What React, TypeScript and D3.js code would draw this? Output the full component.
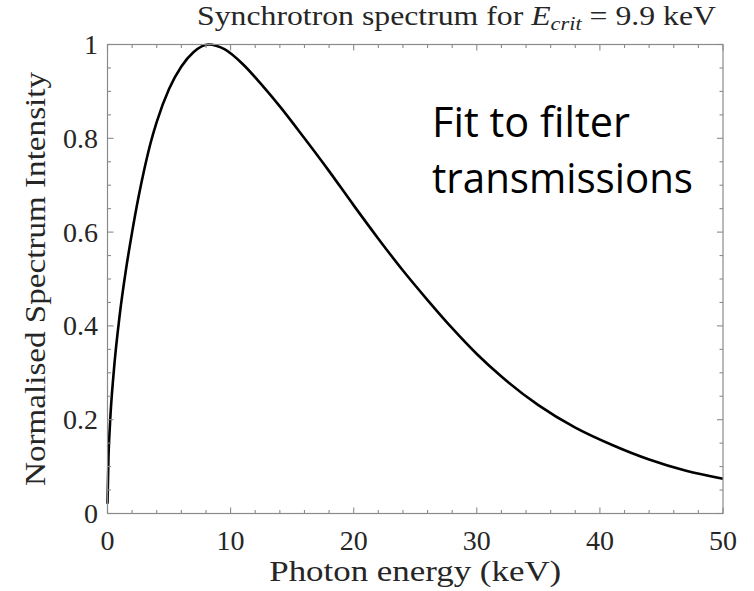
import React from "react";
import * as d3 from "d3";

// Photon energy (keV) and normalised intensity of the synchrotron spectrum
const energy = [0, 0.08, 0.2, 0.5, 1.0, 1.5, 2.0, 2.5, 3.0, 3.5, 4.0, 5.0, 6.0, 7.0, 8.2, 9.5, 11.0, 12.5, 14.0, 16.0, 18.0, 20.0, 22.0, 24.0, 26.0, 28.0, 30.0, 32.0, 35.0, 38.0, 41.0, 44.0, 47.0, 50.0];
const intensity = [0.021, 0.12, 0.19, 0.3, 0.425, 0.52, 0.6, 0.672, 0.735, 0.79, 0.835, 0.905, 0.953, 0.984, 1.0, 0.99, 0.958, 0.915, 0.868, 0.8, 0.73, 0.657, 0.586, 0.518, 0.455, 0.395, 0.34, 0.292, 0.231, 0.183, 0.146, 0.115, 0.091, 0.074];

const xMajorTicks = [0, 10, 20, 30, 40, 50];
const yMajorTicks = [0, 0.2, 0.4, 0.6, 0.8, 1];
const yTickLabels = ["0", "0.2", "0.4", "0.6", "0.8", "1"];

const W = 754;
const H = 591;
const M = { left: 107.5, right: 723, top: 44.5, bottom: 513.5 };

const serif = "'Liberation Serif', 'DejaVu Serif', serif";
const sans = "'Open Sans', 'Noto Sans', sans-serif";
const axisColor = "#8a8a8a";
const textColor = "#262626";

export default function App() {
  const x = d3.scaleLinear().domain([0, 50]).range([M.left, M.right]);
  const y = d3.scaleLinear().domain([0, 1]).range([M.bottom, M.top]);

  const pts = energy.map((e, i) => [e, intensity[i]] as [number, number]);
  const line = d3
    .line<[number, number]>()
    .x((d) => x(d[0]))
    .y((d) => y(d[1]))
    .curve(d3.curveMonotoneX);

  const xMinor = d3.range(0, 50.001, 2).filter((v) => !xMajorTicks.includes(v));
  const yMinor = d3
    .range(0, 1.0001, 0.05)
    .map((v) => +v.toFixed(2))
    .filter((v) => !yMajorTicks.some((t) => Math.abs(t - v) < 1e-6));

  const majLen = 6;
  const minLen = 3.5;

  return (
    <svg
      width={W}
      height={H}
      style={{ position: "absolute", left: 0, top: 0, background: "#fff" }}
    >
      {/* data curve */}
      <path d={line(pts) || ""} fill="none" stroke="#000" strokeWidth={2.6} strokeLinejoin="round" />

      {/* axes box */}
      <rect
        x={M.left}
        y={M.top}
        width={M.right - M.left}
        height={M.bottom - M.top}
        fill="none"
        stroke={axisColor}
        strokeWidth={1.2}
      />

      {/* x ticks, bottom and top */}
      {xMajorTicks.map((t) => (
        <g key={"xm" + t}>
          <line x1={x(t)} x2={x(t)} y1={M.bottom} y2={M.bottom - majLen} stroke={axisColor} strokeWidth={1.1} />
          <line x1={x(t)} x2={x(t)} y1={M.top} y2={M.top + majLen} stroke={axisColor} strokeWidth={1.1} />
          <text x={x(t)} y={550} textAnchor="middle" fontFamily={serif} fontSize={28} fill={textColor}>
            {t}
          </text>
        </g>
      ))}
      {xMinor.map((t) => (
        <g key={"xn" + t}>
          <line x1={x(t)} x2={x(t)} y1={M.bottom} y2={M.bottom - minLen} stroke={axisColor} strokeWidth={1.1} />
          <line x1={x(t)} x2={x(t)} y1={M.top} y2={M.top + minLen} stroke={axisColor} strokeWidth={1.1} />
        </g>
      ))}

      {/* y ticks, left and right */}
      {yMajorTicks.map((t, i) => (
        <g key={"ym" + t}>
          <line x1={M.left} x2={M.left + majLen} y1={y(t)} y2={y(t)} stroke={axisColor} strokeWidth={1.1} />
          <line x1={M.right} x2={M.right - majLen} y1={y(t)} y2={y(t)} stroke={axisColor} strokeWidth={1.1} />
          <text x={98} y={y(t) + 9.5} textAnchor="end" fontFamily={serif} fontSize={28} fill={textColor}>
            {yTickLabels[i]}
          </text>
        </g>
      ))}
      {yMinor.map((t) => (
        <g key={"yn" + t}>
          <line x1={M.left} x2={M.left + minLen} y1={y(t)} y2={y(t)} stroke={axisColor} strokeWidth={1.1} />
          <line x1={M.right} x2={M.right - minLen} y1={y(t)} y2={y(t)} stroke={axisColor} strokeWidth={1.1} />
        </g>
      ))}

      {/* axis labels */}
      <text
        x={(M.left + M.right) / 2}
        y={581}
        textAnchor="middle"
        fontFamily={serif}
        fontSize={29}
        fill={textColor}
        textLength={292}
        lengthAdjust="spacingAndGlyphs"
      >
        Photon energy (keV)
      </text>
      <text
        transform={`translate(45, ${(M.top + M.bottom) / 2}) rotate(-90)`}
        textAnchor="middle"
        fontFamily={serif}
        fontSize={29}
        fill={textColor}
        textLength={414}
        lengthAdjust="spacingAndGlyphs"
      >
        Normalised Spectrum Intensity
      </text>

      {/* title */}
      <text
        x={197}
        y={25}
        fontFamily={serif}
        fontSize={27}
        fill={textColor}
        textLength={519}
        lengthAdjust="spacingAndGlyphs"
      >
        <tspan>Synchrotron spectrum for </tspan>
        <tspan fontStyle="italic">E</tspan>
        <tspan fontStyle="italic" fontSize={19} dy={5}>crit</tspan>
        <tspan dy={-5}> = 9.9 keV</tspan>
      </text>

      {/* annotation */}
      <text
        x={432}
        y={137}
        fontFamily={sans}
        fontSize={42}
        fill="#000"
        textLength={198}
        lengthAdjust="spacingAndGlyphs"
      >
        Fit to filter
      </text>
      <text
        x={432}
        y={193}
        fontFamily={sans}
        fontSize={42}
        fill="#000"
        textLength={261}
        lengthAdjust="spacingAndGlyphs"
      >
        transmissions
      </text>
    </svg>
  );
}
